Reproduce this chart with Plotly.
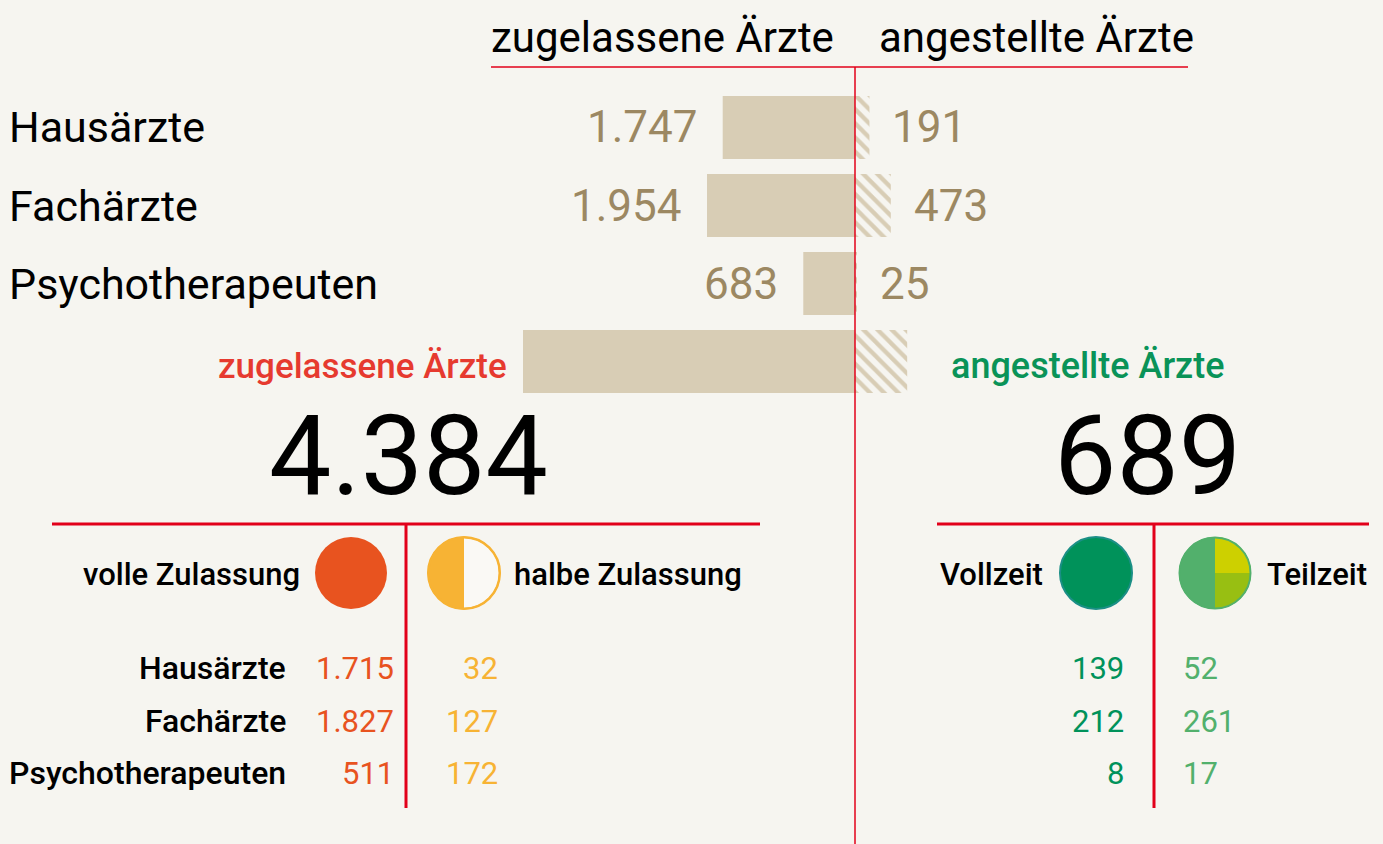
import numpy as np
import plotly.graph_objects as go

W, H = 1383, 844

# ---- data -------------------------------------------------------------
categories = ["Hausärzte", "Fachärzte", "Psychotherapeuten"]
volle_zulassung = [1715, 1827, 511]
halbe_zulassung = [32, 127, 172]
vollzeit = [139, 212, 8]
teilzeit = [52, 261, 17]

header_left = "zugelassene Ärzte"
header_right = "angestellte Ärzte"
legend_labels = ["volle Zulassung", "halbe Zulassung", "Vollzeit", "Teilzeit"]
total_row = "Gesamt"

zugelassen = [v + h for v, h in zip(volle_zulassung, halbe_zulassung)]
angestellt = [v + t for v, t in zip(vollzeit, teilzeit)]
zugelassen_total = sum(zugelassen)
angestellt_total = sum(angestellt)

bar_rows = categories + [total_row]
bar_left = zugelassen + [zugelassen_total]
bar_right = angestellt + [angestellt_total]

# ---- style ------------------------------------------------------------
BG = "#f6f5f0"
BEIGE = "#d8cdb5"
TAN = "#9c8862"
RED = "#e2001a"
ORANGE = "#e8531f"
YELLOW = "#f7b334"
GREEN = "#00925a"
LGREEN = "#52b06c"
FONT = "Roboto, 'DejaVu Sans', sans-serif"

ZERO_PX = 855           # pixel column of the zero line
PX_PER_UNIT = 332 / 4384


def de(n):
    return f"{n:,}".replace(",", ".")


def px(x):
    return x / W


def py(y):
    return 1 - y / H


fig = go.Figure()

# left bars (zugelassene Ärzte) grow to the left
fig.add_trace(go.Bar(
    y=bar_rows, x=[-v for v in bar_left], orientation="h",
    marker=dict(color=BEIGE, line=dict(width=0)),
    hoverinfo="skip", showlegend=False,
))
# right bars (angestellte Ärzte), hatched
fig.add_trace(go.Bar(
    y=bar_rows, x=bar_right, orientation="h",
    marker=dict(color=BEIGE, line=dict(width=0),
                pattern=dict(shape="\\", fillmode="replace", fgcolor=BEIGE,
                             bgcolor=BG, size=10, solidity=0.42)),
    hoverinfo="skip", showlegend=False,
))

ann = []
shapes = []


def text(x, y, s, size, color="#000", anchor="left", weight=400, xref="paper", yref="paper", xshift=0):
    ann.append(dict(x=x, y=y, xref=xref, yref=yref, text=s, showarrow=False,
                    xanchor=anchor, yanchor="middle", xshift=xshift,
                    font=dict(family=FONT, size=size, color=color, weight=weight)))


# headers
text(px(662), py(37), header_left, 42, anchor="center")
text(px(1036), py(37), header_right, 42, anchor="center")

# row labels and bar values
for i, cat in enumerate(categories):
    text(px(7), cat, cat, 43, yref="y")
    text(-bar_left[i], cat, de(bar_left[i]), 44, color=TAN, anchor="right",
         xref="x", yref="y", xshift=-23)
    text(bar_right[i], cat, de(bar_right[i]), 44, color=TAN, anchor="left",
         xref="x", yref="y", xshift=21)

# totals
text(px(509), py(366), header_left, 35, color="#e63a2f", anchor="right", weight=500)
text(px(949), py(366), header_right, 36, color="#0a9358", anchor="left", weight=500)
text(px(550), py(456), de(zugelassen_total), 111, anchor="right")
text(px(1243), py(456), de(angestellt_total), 111, anchor="right")

# legend labels
text(px(302), py(574), legend_labels[0], 31, anchor="right", weight=500)
text(px(512), py(574), legend_labels[1], 31, anchor="left", weight=500)
text(px(1045), py(574), legend_labels[2], 31, anchor="right", weight=500)
text(px(1265), py(574), legend_labels[3], 31, anchor="left", weight=500)

# breakdown table
row_y = [668, 721, 773]
for i, cat in enumerate(categories):
    yy = py(row_y[i])
    text(px(288), yy, cat, 32, anchor="right", weight=500)
    text(px(396), yy, de(volle_zulassung[i]), 31, color=ORANGE, anchor="right")
    text(px(500), yy, de(halbe_zulassung[i]), 31, color=YELLOW, anchor="right")
    text(px(1126), yy, de(vollzeit[i]), 31, color=GREEN, anchor="right")
    text(px(1181), yy, de(teilzeit[i]), 31, color=LGREEN, anchor="left")


def line(x0, y0, x1, y1, w, color=RED):
    shapes.append(dict(type="line", xref="paper", yref="paper",
                       x0=px(x0), y0=py(y0), x1=px(x1), y1=py(y1),
                       line=dict(color=color, width=w), layer="above"))


# rules
line(491, 67, 1188, 67, 1.5)
shapes.append(dict(type="line", xref="x", yref="paper", x0=0, x1=0,
                   y0=py(67), y1=0, line=dict(color=RED, width=1.5), layer="above"))
line(52, 524, 760, 524, 3)
line(406, 524, 406, 808, 3)
line(937, 524, 1369, 524, 3)
line(1154, 524, 1154, 808, 3)


# legend icons
def sector(cx, cy, r, a0, a1, fill, n=60):
    t = np.radians(np.linspace(a0, a1, n))
    xs = cx + r * np.cos(t)
    ys = cy - r * np.sin(t)
    pts = [f"{px(cx)},{py(cy)}"] + [f"{px(x)},{py(y)}" for x, y in zip(xs, ys)]
    shapes.append(dict(type="path", xref="paper", yref="paper",
                       path="M " + " L ".join(pts) + " Z",
                       fillcolor=fill, line=dict(width=0), layer="above"))


def ring(cx, cy, r, color, w, fill="rgba(0,0,0,0)"):
    shapes.append(dict(type="circle", xref="paper", yref="paper",
                       x0=px(cx - r), x1=px(cx + r), y0=py(cy + r), y1=py(cy - r),
                       fillcolor=fill, line=dict(color=color, width=w), layer="above"))


R = 36
ring(351, 573, R, ORANGE, 0, fill=ORANGE)
ring(464, 573, R, YELLOW, 2, fill="#faf9f5")
sector(464, 573, R, 90, 270, YELLOW)
ring(464, 573, R - 0.5, YELLOW, 2)
ring(1096, 573, R, "#1b8f86", 2, fill=GREEN)
sector(1215, 573, R, 90, 270, LGREEN)
sector(1215, 573, R, 0, 90, "#cdd000")
sector(1215, 573, R, -90, 0, "#98bf12")
ring(1215, 573, R - 0.5, LGREEN, 2)

# y axis: 4 rows, 78 px apart, first row centred at 127.5 px
top_px, bottom_px = 127.5 - 39, 361.5 + 39

fig.update_layout(
    width=W, height=H, autosize=False,
    margin=dict(l=0, r=0, t=0, b=0, pad=0),
    paper_bgcolor=BG, plot_bgcolor=BG,
    barmode="overlay", bargap=1 - 63 / 78,
    showlegend=False,
    xaxis=dict(range=[-ZERO_PX / PX_PER_UNIT, (W - ZERO_PX) / PX_PER_UNIT],
               visible=False, fixedrange=True),
    yaxis=dict(type="category", categoryorder="array", categoryarray=bar_rows,
               autorange="reversed", domain=[py(bottom_px), py(top_px)],
               visible=False, fixedrange=True),
    annotations=ann, shapes=shapes,
)

fig.write_html("out.html", config={"displayModeBar": False})
